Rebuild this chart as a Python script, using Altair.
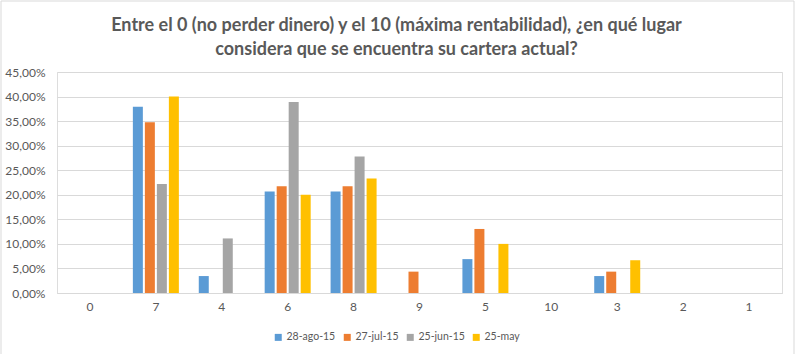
import altair as alt
import pandas as pd

categories = ["0", "7", "4", "6", "8", "9", "5", "10", "3", "2", "1"]
series = ["28-ago-15", "27-jul-15", "25-jun-15", "25-may"]
colors = ["#5B9BD5", "#ED7D31", "#A5A5A5", "#FFC000"]

s_ago = [0, 37.93, 3.45, 20.69, 20.69, 0, 6.90, 0, 3.45, 0, 0]
s_jul = [0, 34.78, 0, 21.74, 21.74, 4.35, 13.04, 0, 4.35, 0, 0]
s_jun = [0, 22.22, 11.11, 38.89, 27.78, 0, 0, 0, 0, 0, 0]
s_may = [0, 40.00, 0, 20.00, 23.33, 0, 10.00, 0, 6.67, 0, 0]

rows = []
for name, vals in zip(series, [s_ago, s_jul, s_jun, s_may]):
    for c, v in zip(categories, vals):
        rows.append({"cat": c, "serie": name, "val": v / 100.0})
df = pd.DataFrame(rows)

FONT = "Lato"
GRAY = "#595959"

bars = alt.Chart(df).mark_bar().encode(
    x=alt.X("cat:N", sort=categories,
            scale=alt.Scale(paddingInner=0.302, paddingOuter=0.151),
            axis=alt.Axis(title=None, labelAngle=0, domain=True, domainColor="#D9D9D9",
                          ticks=False, labelColor=GRAY, labelFontSize=12, labelFont=FONT,
                          labelPadding=8)),
    xOffset=alt.XOffset("serie:N", sort=series,
                        scale=alt.Scale(paddingInner=0.167, paddingOuter=0)),
    y=alt.Y("val:Q", scale=alt.Scale(domain=[0, 0.45], nice=False),
            axis=alt.Axis(title=None, format=".2%", values=[i * 0.05 for i in range(10)],
                          domain=False, ticks=False, grid=True, gridColor="#D9D9D9",
                          labelColor=GRAY, labelFontSize=12, labelFont=FONT, labelPadding=12,
                          labelExpr="replace(datum.label, '.', ',')")),
    color=alt.Color("serie:N", sort=series,
                    scale=alt.Scale(domain=series, range=colors),
                    legend=alt.Legend(title=None, orient="none", direction="horizontal",
                                      legendX=216, legendY=260, symbolType="square",
                                      symbolSize=49, symbolStrokeWidth=0,
                                      labelFontSize=10.5, labelColor=GRAY, labelFont=FONT,
                                      columnPadding=6, labelOffset=3)),
)

border = alt.Chart(pd.DataFrame({"a": [0]})).mark_rect(
    fill=None, stroke="#D9D9D9", strokeWidth=1, clip=False
).encode(x=alt.value(-56), x2=alt.value(737), y=alt.value(-71), y2=alt.value(300))

chart = alt.layer(border, bars).properties(
    width=725, height=221,
    autosize=alt.AutoSizeParams(type="none"),
    padding={"left": 57, "top": 72, "right": 23, "bottom": 61},
    title=alt.Title(
        ["Entre el 0 (no perder dinero) y el 10 (máxima rentabilidad), ¿en qué lugar",
         "considera que se encuentra su cartera actual?"],
        font=FONT, fontSize=18, fontWeight="bold", color=GRAY, anchor="middle",
        dx=-23, offset=-58, lineHeight=24),
).configure_view(stroke=None).configure(background="white")

chart.save("out.html", embed_options={"renderer": "svg", "actions": False})
